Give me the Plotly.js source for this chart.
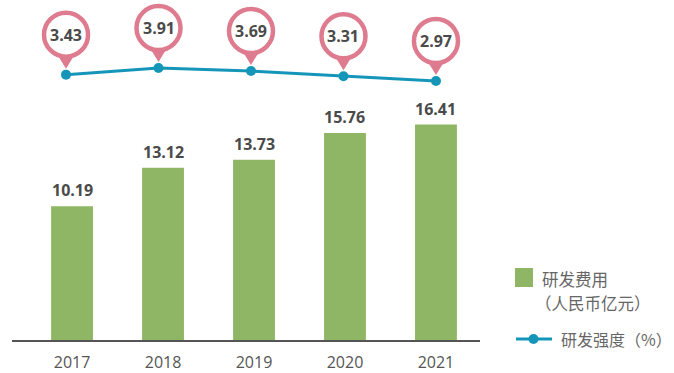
<!DOCTYPE html>
<html>
<head>
<meta charset="utf-8">
<script src="https://cdn.plot.ly/plotly-3.0.1.min.js"></script>
<style>html,body{margin:0;padding:0;background:#fff;}#chart{width:674px;height:373px;}</style>
</head>
<body>
<div id="chart"></div>
<script>
const years = ['2017', '2018', '2019', '2020', '2021'];
const rdExpense = [10.19, 13.12, 13.73, 15.76, 16.41];
const rdIntensity = [3.43, 3.91, 3.69, 3.31, 2.97];
const legendBar = ['研发费用', '（人民币亿元）'];
const legendLine = '研发强度（%）';

const GREEN = '#8fb664';
const BLUE = '#1596b8';
const PINK = '#de7b8f';
const DARK = '#4a4a4a';
const CJK = '"Noto Sans CJK SC", "Noto Sans", sans-serif';
const NUMF = '"Open Sans", "Noto Sans", sans-serif';

const W = 674, H = 373, ML = 12, MR = 194, MT = 0, MB = 33;
const PW = W - ML - MR, PH = H - MT - MB;
const px2x = p => (p - ML) / PW;
const py2y = p => (H - MB - p) / PH;

const traces = [
  {
    type: 'bar', x: years, y: rdExpense, width: 0.46,
    marker: {color: GREEN}, hoverinfo: 'none', showlegend: false
  },
  {
    type: 'scatter', mode: 'lines+markers', x: years, y: rdIntensity,
    xaxis: 'x2', yaxis: 'y2',
    line: {color: BLUE, width: 3}, marker: {color: BLUE, size: 10},
    cliponaxis: false, hoverinfo: 'none', showlegend: false
  }
];

const annotations = [];
const shapes = [];
years.forEach((yr, i) => {
  annotations.push({
    x: i, y: rdExpense[i], xref: 'x', yref: 'y', yshift: 16,
    text: rdExpense[i].toFixed(2), showarrow: false, yanchor: 'middle',
    font: {family: NUMF, size: 16, color: DARK, weight: 700}
  });
  shapes.push({
    type: 'path', xref: 'x2', yref: 'y2', xsizemode: 'pixel', ysizemode: 'pixel',
    xanchor: i, yanchor: rdIntensity[i],
    path: 'M-11,24 L11,24 L0,6 Z', fillcolor: PINK, line: {width: 0}
  });
  shapes.push({
    type: 'circle', xref: 'x2', yref: 'y2', xsizemode: 'pixel', ysizemode: 'pixel',
    xanchor: i, yanchor: rdIntensity[i],
    x0: -22, x1: 22, y0: 18, y1: 62, fillcolor: '#ffffff', line: {color: PINK, width: 4.5}
  });
  annotations.push({
    x: i, y: rdIntensity[i], xref: 'x2', yref: 'y2', yshift: 40,
    text: rdIntensity[i].toFixed(2), showarrow: false, yanchor: 'middle',
    font: {family: NUMF, size: 16, color: DARK, weight: 700}
  });
});

// manual legend
shapes.push({type: 'rect', xref: 'paper', yref: 'paper',
  x0: px2x(515), x1: px2x(533), y0: py2y(287), y1: py2y(268),
  fillcolor: GREEN, line: {width: 0}});
shapes.push({type: 'line', xref: 'paper', yref: 'paper',
  x0: px2x(516), x1: px2x(552), y0: py2y(339), y1: py2y(339),
  line: {color: BLUE, width: 3}});
shapes.push({type: 'circle', xref: 'paper', yref: 'paper',
  x0: px2x(528.5), x1: px2x(538.5), y0: py2y(344), y1: py2y(334),
  fillcolor: BLUE, line: {width: 0}});
annotations.push({xref: 'paper', yref: 'paper', x: px2x(540), y: py2y(279),
  xanchor: 'left', yanchor: 'middle', showarrow: false, text: legendBar[0],
  font: {family: CJK, size: 16.5, color: '#666'}});
annotations.push({xref: 'paper', yref: 'paper', x: px2x(533), y: py2y(303),
  xanchor: 'left', yanchor: 'middle', showarrow: false, text: legendBar[1],
  font: {family: CJK, size: 16.5, color: '#666'}});
annotations.push({xref: 'paper', yref: 'paper', x: px2x(559), y: py2y(339),
  xanchor: 'left', yanchor: 'middle', showarrow: false, text: legendLine,
  font: {family: CJK, size: 16, color: '#666'}});

const layout = {
  width: W, height: H,
  margin: {l: ML, r: MR, t: MT, b: MB, pad: 0},
  paper_bgcolor: '#fff', plot_bgcolor: '#fff',
  showlegend: false,
  xaxis: {
    type: 'category', range: [-0.66, 4.484], showgrid: false, zeroline: false,
    showline: true, linecolor: '#555', linewidth: 1.5, ticks: '',
    ticklabelstandoff: 7,
    tickfont: {family: NUMF, size: 16, color: '#555'}, fixedrange: true
  },
  xaxis2: {
    type: 'category', range: [-0.584, 4.476], overlaying: 'x', visible: false, fixedrange: true
  },
  yaxis: {range: [0, 25.9], visible: false, fixedrange: true},
  yaxis2: {range: [-15.8, 8.84], overlaying: 'y', visible: false, fixedrange: true},
  annotations: annotations,
  shapes: shapes
};

Plotly.newPlot('chart', traces, layout, {staticPlot: true});
</script>
</body>
</html>
